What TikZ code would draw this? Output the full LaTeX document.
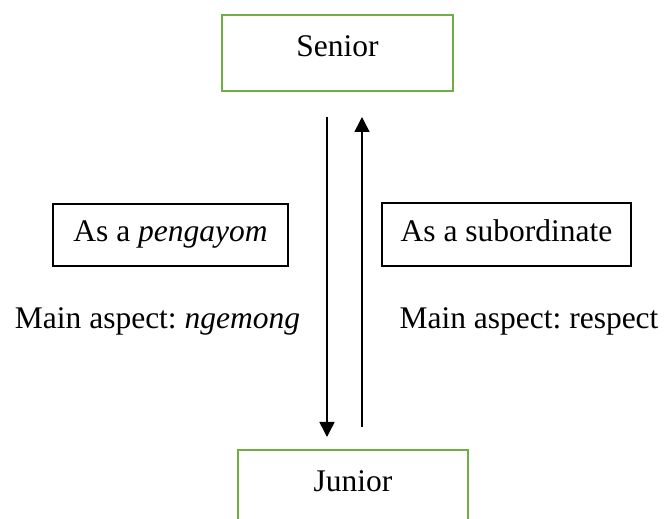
\documentclass[tikz,border=0pt]{standalone}
\usepackage{fontspec}
\setmainfont{Liberation Serif}
\usetikzlibrary{arrows.meta}
\definecolor{wordgreen}{RGB}{112,173,71}
\frenchspacing
\begin{document}
\begin{tikzpicture}[x=0.4pt, y=-0.4pt, >={Triangle[width=6pt,length=6pt]},
	every node/.style={font=\fontsize{12.6}{15}\selectfont},
	greenbox/.style={draw=wordgreen, line width=1.1pt, inner sep=0pt, minimum width=92.4pt, minimum height=30.4pt, text height=8.6pt, text depth=5.4pt},
	blackbox/.style={draw, line width=0.8pt, inner sep=0pt, minimum height=25pt, text height=8.6pt, text depth=3pt}]
	% 1. page frame, the lower box runs off the bottom edge
	\clip (0,0) rectangle (668,519);
	
	% 2. upper and lower boxes
	\node[greenbox] (senior) at (337.5,53) {Senior};
	\node[greenbox, minimum width=92pt] (junior) at (353,488) {Junior};
	
	% 3. role boxes on both sides
	\node[blackbox, minimum width=94pt] (pengayom) at (170.5,235) {As a \textit{pengayom}};
	\node[blackbox, minimum width=99.6pt] (subordinate) at (506.5,234.5) {As a subordinate};
	
	% main aspect texts
	\node[anchor=base] (ngemong) at (157.5,328) {Main aspect: \textit{ngemong}};
	\node[anchor=base] (respect) at (529,328) {Main aspect: respect};
	
	% 4. arrows between the two levels
	\coordinate (downstart) at (327,117);
	\coordinate (downend) at (327,437);
	\coordinate (upstart) at (362,427);
	\coordinate (upend) at (362,117);
	\draw[->, line width=0.6pt] (downstart) -- (downend);
	\draw[->, line width=0.6pt] (upstart) -- (upend);
\end{tikzpicture}
\end{document}
